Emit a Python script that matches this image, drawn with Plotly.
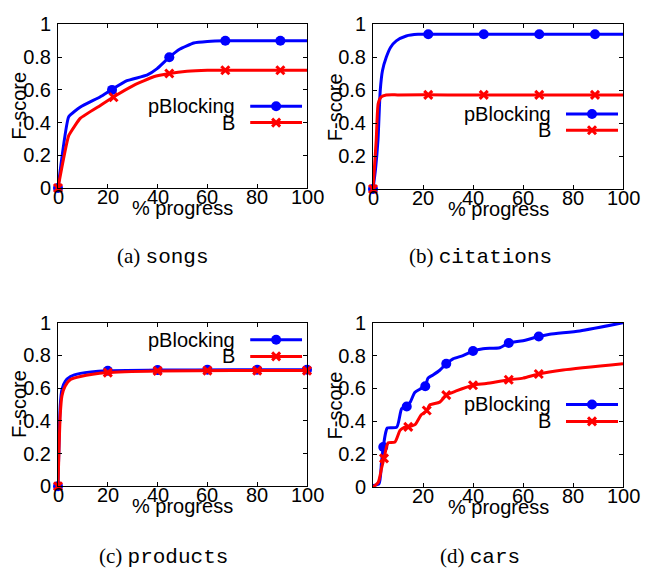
import plotly.graph_objects as go

W, H = 653, 579
BLUE = "#0000ff"
RED = "#ff0000"
FONT = "Liberation Sans, Arial, sans-serif"
FS = 20

# ---------------- data ----------------
# (a) songs
a_blue_x = [0, 4.3, 9, 17, 21.7, 27.7, 35.7, 39.8, 44.7, 49, 54.5, 60, 67.2, 80, 100]
a_blue_y = [0, 0.436, 0.495, 0.558, 0.603, 0.656, 0.69, 0.73, 0.80, 0.85, 0.887, 0.896, 0.90, 0.90, 0.90]
a_blue_mx = [0, 21.7, 44.7, 67.2, 89.3]
a_blue_my = [0, 0.60, 0.80, 0.90, 0.90]
a_red_x = [0, 4.3, 9, 17, 22.4, 30.4, 38.4, 44.7, 51.8, 60, 67.2, 80, 100]
a_red_y = [0, 0.32, 0.427, 0.505, 0.558, 0.628, 0.68, 0.70, 0.714, 0.72, 0.72, 0.72, 0.72]
a_red_mx = [0, 22.3, 44.7, 67.2, 89.3]
a_red_my = [0, 0.555, 0.70, 0.72, 0.72]

# (b) citations
b_blue_x = [0, 1, 2, 2.9, 3.8, 5.3, 7, 9.3, 13.3, 18, 30, 60, 100]
b_blue_y = [0, 0.12, 0.30, 0.60, 0.72, 0.80, 0.86, 0.90, 0.93, 0.94, 0.94, 0.94, 0.94]
b_blue_mx = [0, 22.1, 44.3, 66.5, 88.8]
b_blue_my = [0, 0.94, 0.94, 0.94, 0.94]
b_red_x = [0, 1.3, 2.1, 3.3, 5.3, 10, 30, 60, 100]
b_red_y = [0, 0.30, 0.52, 0.56, 0.571, 0.572, 0.572, 0.572, 0.572]
b_red_mx = [0, 22.1, 44.3, 66.5, 88.8]
b_red_my = [0, 0.572, 0.572, 0.572, 0.572]

# (c) products
c_blue_x = [0, 0.9, 1.6, 2.9, 5, 9, 19.7, 40, 70, 100]
c_blue_y = [0, 0.495, 0.593, 0.642, 0.671, 0.69, 0.706, 0.71, 0.712, 0.712]
c_blue_mx = [0, 20, 40, 60, 80, 100]
c_blue_my = [0, 0.706, 0.71, 0.712, 0.712, 0.712]
c_red_x = [0, 0.9, 1.6, 2.9, 5, 9, 19.7, 40, 70, 100]
c_red_y = [0, 0.436, 0.554, 0.613, 0.652, 0.671, 0.695, 0.705, 0.707, 0.707]
c_red_mx = [0, 20, 40, 60, 80, 100]
c_red_my = [0, 0.695, 0.705, 0.707, 0.707, 0.707]

# (d) cars
d_blue_x = [0, 2.4, 3.4, 4.1, 5.2, 5.7, 9.5, 11.5, 13.5, 15, 16.7, 18.7, 20.9, 22, 24,
            26.7, 29.3, 32, 36, 40, 44, 50.7, 54.3, 60, 66.3, 70.7, 82.7, 100]
d_blue_y = [0.01, 0.02, 0.15, 0.244, 0.34, 0.36, 0.365, 0.478, 0.49, 0.52, 0.575, 0.595, 0.614,
            0.663, 0.682, 0.711, 0.75, 0.78, 0.80, 0.828, 0.842, 0.848, 0.877, 0.89, 0.916,
            0.93, 0.95, 1.0]
d_blue_mx = [4.1, 13.5, 20.9, 29.3, 40, 54.3, 66.3]
d_blue_my = [0.244, 0.49, 0.614, 0.75, 0.828, 0.877, 0.916]
d_red_x = [0, 2.1, 3.5, 4.4, 5.5, 6.1, 8.8, 10.8, 12.3, 14.1, 16.8, 19.3, 21.5, 22.7, 26.7,
           29.3, 33.3, 40, 45.3, 54.3, 60, 66.3, 76, 100]
d_red_y = [0, 0.03, 0.12, 0.175, 0.25, 0.27, 0.275, 0.345, 0.362, 0.367, 0.38, 0.44, 0.466,
           0.50, 0.517, 0.56, 0.585, 0.62, 0.63, 0.653, 0.663, 0.688, 0.712, 0.75]
d_red_mx = [4.4, 14.1, 21.5, 29.3, 40, 54.3, 66.3]
d_red_my = [0.175, 0.367, 0.466, 0.56, 0.62, 0.653, 0.688]

series_names = ["pBlocking", "B"]
captions = [("a", "songs"), ("b", "citations"), ("c", "products"), ("d", "cars")]
y_ticks = [0, 0.2, 0.4, 0.6, 0.8, 1]
y_ticktext = ["0", "0.2", "0.4", "0.6", "0.8", "1"]
x_ticks_full = [0, 20, 40, 60, 80, 100]
x_ticks_d = [20, 40, 60, 80, 100]

panels = [
    dict(blue=(a_blue_x, a_blue_y, a_blue_mx, a_blue_my), red=(a_red_x, a_red_y, a_red_mx, a_red_my),
         box=(58, 307, 14, 184), key=(0.50, 0.40), xt=x_ticks_full, cap=(163, 255), sm=0.35),
    dict(blue=(b_blue_x, b_blue_y, b_blue_mx, b_blue_my), red=(b_red_x, b_red_y, b_red_mx, b_red_my),
         box=(373, 623, 14, 185), key=(0.456, 0.357), xt=x_ticks_full, cap=(480, 255), sm=0.6),
    dict(blue=(c_blue_x, c_blue_y, c_blue_mx, c_blue_my), red=(c_red_x, c_red_y, c_red_mx, c_red_my),
         box=(58, 307, 324, 494), key=(0.896, 0.794), xt=x_ticks_full, cap=(164, 567), sm=0.6),
    dict(blue=(d_blue_x, d_blue_y, d_blue_mx, d_blue_my), red=(d_red_x, d_red_y, d_red_mx, d_red_my),
         box=(373, 623, 324, 495), key=(0.503, 0.40), xt=x_ticks_d, cap=(480, 567), sm=0.6),
]


def px_x(p):
    return p / W


def px_y(p):
    return 1 - p / H


fig = go.Figure()
annotations = []
layout = {}
tfont = dict(family=FONT, size=FS, color="black")

for i, p in enumerate(panels):
    n = "" if i == 0 else str(i + 1)
    xa, ya = "x" + n, "y" + n
    l, r, t, b = p["box"]
    common = dict(showline=True, linecolor="black", linewidth=1, mirror="ticks",
                  ticks="inside", ticklen=4, tickcolor="black", tickwidth=1,
                  showgrid=False, zeroline=False, tickfont=tfont)
    layout["xaxis" + n] = dict(domain=[px_x(l), px_x(r)], range=[0, 100], anchor=ya,
                               tickvals=p["xt"], showticklabels=False, **common)
    layout["yaxis" + n] = dict(domain=[px_y(b), px_y(t)], range=[0, 1], anchor=xa,
                               tickvals=y_ticks, ticktext=y_ticktext,
                               ticklabelstandoff=2, **common)
    # x tick labels
    for v in p["xt"]:
        annotations.append(dict(x=v, y=0, xref=xa, yref=ya + " domain", text=str(v),
                                showarrow=False, xanchor="center", yanchor="middle",
                                yshift=-9, font=tfont))

    for col, key, sym, msize, kname, ky in [
        (BLUE, "blue", "circle", 10, series_names[0], p["key"][0]),
        (RED, "red", "x-thin", 8, series_names[1], p["key"][1]),
    ]:
        lx, ly, mx, my = p[key]
        fig.add_trace(go.Scatter(x=lx, y=ly, mode="lines", xaxis=xa, yaxis=ya,
                                 line=dict(color=col, width=3, shape="spline", smoothing=p["sm"]),
                                 showlegend=False, hoverinfo="skip"))
        mk = dict(color=col, size=msize, symbol=sym, line=dict(color=col, width=3 if sym == "x-thin" else 0))
        fig.add_trace(go.Scatter(x=mx, y=my, mode="markers", xaxis=xa, yaxis=ya,
                                 marker=mk, cliponaxis=False, showlegend=False, hoverinfo="skip"))
        # key sample
        fig.add_trace(go.Scatter(x=[77.2, 98], y=[ky, ky], mode="lines", xaxis=xa, yaxis=ya,
                                 line=dict(color=col, width=3), showlegend=False, hoverinfo="skip"))
        fig.add_trace(go.Scatter(x=[87.6], y=[ky], mode="markers", xaxis=xa, yaxis=ya,
                                 marker=mk, showlegend=False, hoverinfo="skip"))
        annotations.append(dict(x=71.8, y=ky, xref=xa, yref=ya, text=kname, showarrow=False,
                                xanchor="right", yanchor="middle", font=tfont))

    # axis titles
    annotations.append(dict(x=px_x(l - 38.5), y=px_y((t + b) / 2), xref="paper", yref="paper",
                            text="F-score", textangle=-90, showarrow=False,
                            xanchor="center", yanchor="middle", font=tfont))
    annotations.append(dict(x=px_x((l + r) / 2), y=px_y(b + 21), xref="paper", yref="paper",
                            text="% progress", showarrow=False,
                            xanchor="center", yanchor="middle", font=tfont))
    # caption
    letter, name = captions[i]
    annotations.append(dict(x=px_x(p["cap"][0]), y=px_y(p["cap"][1]), xref="paper", yref="paper",
                            text="(" + letter + ") <span style='font-family:Liberation Mono, DejaVu Sans Mono, monospace'>"
                                 + name + "</span>",
                            showarrow=False, xanchor="center", yanchor="middle",
                            font=dict(family="Liberation Serif, DejaVu Serif, serif", size=21, color="black")))

fig.update_layout(width=W, height=H, margin=dict(l=0, r=0, t=0, b=0),
                  paper_bgcolor="white", plot_bgcolor="white",
                  annotations=annotations, **layout)

fig.write_html("out.html")
